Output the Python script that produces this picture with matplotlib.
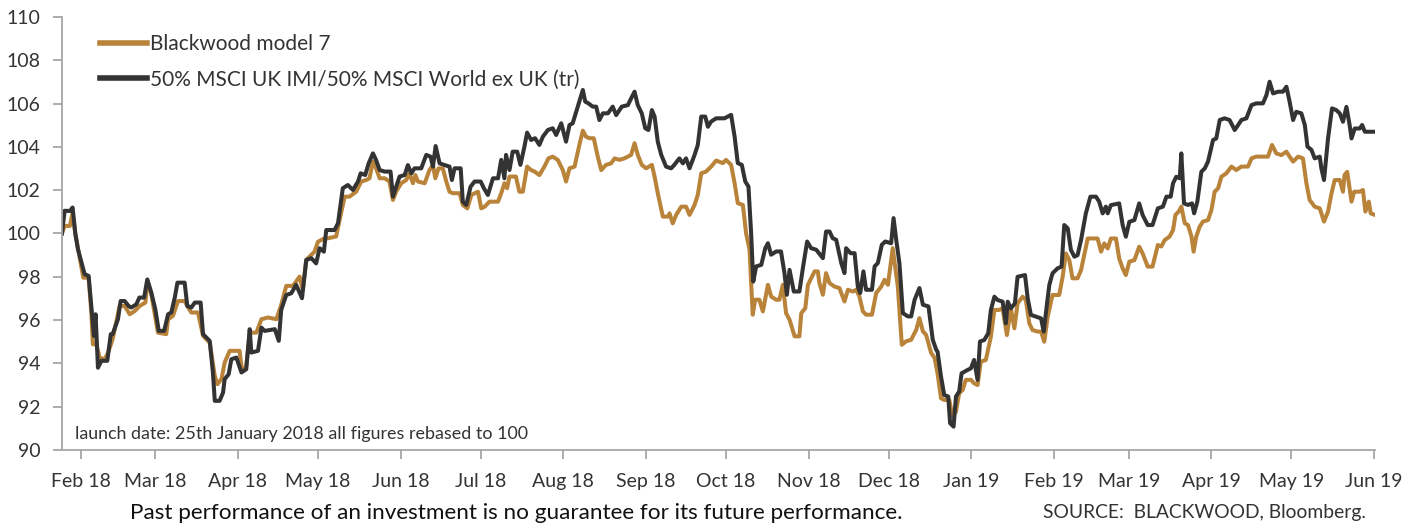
import datetime as dt
import matplotlib
matplotlib.use("Agg")
import matplotlib.pyplot as plt
import matplotlib.dates as mdates

# launch date, all figures rebased to 100 on this day
launch = dt.datetime(2018, 1, 25)

# 50% MSCI UK IMI / 50% MSCI World ex UK (tr) - days since launch and rebased value
bench_days = [0, 1, 3, 4, 5, 6, 8.5, 10, 11, 12, 12.6, 13.5, 14.8, 17, 18.3, 19, 21, 22, 23.5, 25,
              26, 27.9, 29, 30.8, 32, 33.5, 35, 36.3, 38.3, 39.8, 41, 42.3, 43.3, 46, 47, 48.5, 49.8, 52, 52.9, 55.4,
              56.6, 57.3, 59.1, 60.4, 61, 62.5, 63.5, 65.4, 67.3, 69.1, 70.4, 71, 73.5, 74.8, 76, 79.8, 81.3,
              82.2, 84.1, 86, 87.8, 90, 91.6, 93.5, 95.3, 96.6, 98.2, 99.1, 102.2, 103.5, 105.3, 107.2, 109.1,
              111, 112, 113.7, 115, 116.6, 117.8, 119.1, 121, 123.2, 124.1, 125.3, 126.6, 128.5, 129.7, 131,
              132.2, 134.7, 136.6, 138.2, 139.1, 140.1, 141.6, 143.5, 145.3, 146.2, 147.2, 149.5, 150.3, 151.6,
              153.2, 154.7, 157, 158.2, 159.7, 161.6, 163.5,
              164.7, 165.9, 166.5, 167.8, 169, 170.7, 171.9, 173.4, 174.4, 175.9, 177.4, 179, 180.3, 182.2, 184,
              185.3, 187.2, 189, 190.3, 191.5, 193.4, 195.3, 196.2, 197.4, 199, 200.3, 201.5, 202.8, 204.7, 206.5,
              207.8, 209.9, 212.2, 213.4, 214.7, 215.9, 217.4, 218.7, 219.9, 221.2, 222.2, 223.4, 224.7, 226.5,
              228.4, 229.6, 231.5, 232.8, 234, 235.3, 237.2, 238.4, 239.7, 241.2, 242.2, 243.4, 245.3,
              248.4, 250.9, 252.2, 253.4, 254.9, 256.2, 257.4, 258.4, 259.2, 260.3, 262.2, 263.7, 264.7, 265.9,
              267.8, 269.6, 270.9, 271.8, 272.8, 274.4, 276.5, 277.8, 279.4, 280.9, 282.8, 285.3, 286.5, 287.8,
              289, 290.3, 292.2, 293.4, 294, 295.7, 297.2, 298.4, 299.3, 300.5, 301.5, 303.7, 304.7, 305.9, 307.4,
              308.7, 310.9, 311.8, 312.8, 314, 315.3, 317.2, 318.4, 319.7, 321.5, 322.8, 324.9, 326.5, 327.8,
              328.3, 329.6, 330.8, 332.3, 333, 334.3, 335.2, 336.4, 337.3, 339.6, 340.8, 342, 343.3, 344.2, 345.8,
              347.3, 348.3, 349.6, 350.8, 352.7, 353.9, 354.6, 355.8, 357.3, 358.3, 361.1, 362.1, 363.3, 365.2,
              367.1, 368.1, 368.9, 370.2, 371.4, 373.3, 374.8, 375.8, 377.1, 378.3, 379.6, 380.8, 382.1, 383.9,
              385.6, 387.7, 388.9, 390.2, 391.4, 392.1, 393.3, 396.4, 397.7, 398.9, 400.2, 402.1, 403.9, 405.2,
              407.1, 408.9,
              410.9, 412.8, 414.1, 415.7, 416.6, 417.8, 419.1, 419.7, 420.7, 422.2, 423.7, 424.5, 425.7, 427.2,
              428.5, 429.7, 431.6, 432.8, 434.1, 435.9, 437.8, 439.7, 441, 442.2, 444.1, 446, 447.8, 450.3, 451.6,
              452.8, 454.1, 456, 457.8, 459.1, 460.3, 461.6, 462.8, 464.7, 466, 467, 468.5, 469.7, 471.6, 472.2,
              473.2, 474.7, 476.2, 477.8, 479.1, 480.3, 481.6, 482.8, 483.5, 484.7, 486.6, 487.5, 488.5, 492.2]
bench_vals = [100.0, 101.05, 101.04, 101.2, 100.0, 99.27, 98.12, 98.04, 96.65, 95.27, 96.27, 93.8, 94.12, 94.12,
              95.35, 95.35, 96.04, 96.88, 96.88, 96.65, 96.58, 96.73, 97.04, 97.04, 97.88, 97.27, 96.5, 95.5, 95.5,
              96.27, 96.35, 97.04, 97.73, 97.73, 96.65, 96.58, 96.81, 96.81, 95.35, 95.04, 93.58, 92.27, 92.27,
              92.65, 93.27, 93.5, 94.19, 94.27, 93.58, 93.73, 95.58, 94.5, 94.58, 95.65, 95.5, 95.58, 95.04,
              96.47, 97.16, 97.24, 97.63, 97.01, 98.78, 98.86, 98.62, 99.32, 99.16, 100.16, 100.16, 100.47, 102.09,
              102.24, 102.01, 102.4, 102.78, 102.7, 103.24, 103.7, 103.39, 102.93, 102.86, 102.86, 101.7, 102.16,
              102.63, 102.7, 103.16, 102.78, 103.01, 103.01, 103.63, 103.55, 103.09, 104.04, 103.24, 103.16, 103.09,
              102.47, 103.01, 103.01, 101.47, 101.32, 102.16, 102.4, 102.4, 102.09, 101.78, 102.55, 102.55,
              103.4, 102.55, 103.63, 102.93, 103.78, 103.78, 103.17, 104.01, 104.66, 104.32, 104.4, 104.09, 104.47,
              104.78, 104.86, 104.55, 105.09, 104.24, 105.01, 105.09, 105.86, 106.63, 106.09, 106.01, 105.86,
              105.86, 105.24, 105.55, 105.55, 105.86, 105.47, 105.86, 105.93, 106.24, 106.55, 105.93, 105.55,
              104.86, 104.78, 105.7, 105.4, 104.24, 103.63, 103.09, 103.01, 103.17, 103.47, 103.24, 103.47, 103.01,
              103.63, 104.09, 105.4, 105.4, 104.93, 105.17, 105.32,
              105.32, 105.48, 104.48, 103.25, 103.17, 102.4, 102.17, 100.02, 97.78, 98.48, 98.55, 99.32, 99.55,
              99.02, 99.17, 99.17, 98.17, 97.17, 98.32, 97.32, 97.32, 98.4, 99.63, 99.32, 99.25, 98.86, 100.09,
              100.09, 99.78, 99.71, 98.63, 98.17, 99.32, 99.09, 99.09, 97.55, 97.25, 98.25, 97.4, 97.4, 98.48,
              98.63, 99.48, 99.63, 99.55, 100.71, 99.71, 98.63, 96.32, 96.17, 96.17, 96.94, 97.48, 96.71, 96.63,
              95.09, 94.63,
              94.54, 93.39, 92.54, 92.47, 91.24, 91.08, 92.47, 92.7, 93.54, 93.7, 93.77, 94.16, 93.24, 95.01, 95.08,
              95.39, 96.47, 97.08, 96.93, 96.85, 95.85, 96.85, 96.54, 96.77, 98.0, 98.08, 97.0, 96.24, 96.16, 96.08,
              95.47, 96.31, 97.62, 98.16, 98.39, 98.47, 100.39, 100.24, 99.24, 98.93, 99.0, 99.7, 100.93, 101.7,
              101.7, 101.47, 100.93, 101.24, 100.93, 101.31, 101.39, 100.39, 99.85, 100.54, 100.62, 101.39, 100.85,
              100.39, 100.39,
              101.16, 101.24, 101.7, 101.7, 102.32, 102.62, 102.55, 103.7, 101.39, 101.32, 101.39, 100.93, 101.47,
              102.85, 103.01, 103.32, 104.32, 104.39, 105.24, 105.32, 105.24, 104.78, 105.01, 105.24, 105.32,
              105.93, 106.01, 106.01, 106.39, 107.01, 106.47, 106.55, 106.55, 106.78, 106.09, 105.24, 105.62,
              105.55, 105.01, 104.01, 103.86, 103.47, 103.55, 103.01, 102.47, 104.39, 105.78, 105.7, 105.55,
              105.16, 105.85, 105.01, 104.39, 104.85, 104.85, 105.01, 104.7, 104.7]

# Blackwood model 7 - days since launch and rebased value
model_days = [0, 1, 3, 4, 5, 8, 10, 11, 11.6, 12.9, 14.1, 16, 17.3, 19, 21.6, 23.5, 25.4, 27.3, 29.1, 31.3, 32,
              33.5, 36, 39.1, 39.8, 41.6, 43.5, 46, 47, 48.5, 51, 52.9, 55.4, 57.3, 58.3, 59.8, 61, 62.9, 66.6,
              67.5, 69.1, 70.4, 72.9, 74.8, 77.3, 80.4,
              82.2, 84.1, 86.6, 89.1, 90.3, 91.6, 94.7, 96, 98.5, 99.7, 102.8, 104.1, 106, 107.8, 110.3, 112.2,
              114.1, 115.3, 116.6, 117.8, 119.1, 121, 122.8, 124.1, 125.3, 127.2, 129.1, 130.3, 131.6, 132.5,
              133.5, 136, 137.8, 139.1, 140, 141.2, 142.8, 144.1, 145.3, 146.6, 149.1, 150.3, 152, 153.5, 156,
              157.2, 158.5, 160.3, 163.5,
              164.7, 165.9, 166.9, 167.8, 170.2, 171.5, 172.8, 174.4, 175.9, 177.2, 179, 180.9, 182.4, 184, 185.9,
              187.8, 189, 190.3, 192.2, 194, 195.3, 196.5, 197.8, 199.4, 200.9, 202.2, 204, 205.9, 207.2, 209,
              210.9, 213.4, 214.7, 215.9, 217.4, 219, 221.2, 222.2, 223.4, 225.3, 227.2, 227.8, 229, 230.3, 232.2,
              234, 235.3, 237.2, 238.4, 239.7, 241.5, 243.4, 245.3,
              247.8, 249, 250.9, 252.2, 253.4, 255.3, 256.5, 257.8, 259, 259.9, 261.5, 262.8, 264.7, 265.9, 267.8,
              269, 270.3, 271.5, 272.8, 274.7, 276.5, 277.2, 278.7, 279.7, 282.2, 283.4, 284, 285.3, 286.5, 287.8,
              289.6, 291.5, 293.4, 294.7, 296.5, 297.8, 299, 300.3, 301.5, 303.7, 305.3, 307.2, 308.4, 309.7,
              311.5, 313.4, 314.9, 316.5, 318.4, 320.3, 321.5, 322.8, 324, 325.9, 327.2,
              328.3, 329.6, 330.8, 332.7, 333.9, 335.2, 336.4, 337.7, 338.9, 340.8, 342, 343.3, 344.5, 346.4,
              348.3, 349.6, 351.4, 352.7, 354.3, 355.8, 357.1, 358.3, 360.2, 361.4, 362.7, 363.9, 365.8, 367.1,
              368.3, 369.6, 371.4, 373.9, 375.2, 376.4, 377.7, 378.9, 380.8, 382.1, 383.3, 384.6, 386.4, 388.3,
              389.6, 390.8, 392.1, 393.3, 395.2, 396.4, 397.7, 398.9, 400.2, 402.1, 403.9, 405.2, 407.1, 408.9,
              410.9, 412.2, 413.5, 415.3, 416.6, 417.5, 418.7, 419.7, 421, 422.2, 423.5, 424.3, 425.3, 426.6,
              427.8, 429.7, 431, 432.2, 433.5, 434.7, 436.6, 438.5, 440.3, 442.2, 444.7, 446, 447.8, 450, 452.2,
              453.7, 455.3, 457.2, 459.1, 460.3, 461.6, 463.5, 465.3, 466.6, 467.8, 469.7, 471.6, 473.2, 474.7,
              476, 477.2, 479.1, 480.3, 480.9, 481.9, 483.5, 484.5, 486.6, 487.8, 488.7, 490, 490.7, 492.2]
model_vals = [100.0, 100.35, 100.35, 100.96, 100.0, 97.96, 97.96, 96.35, 94.88, 94.88, 94.27, 94.19, 94.5, 95.12,
              96.65, 96.65, 96.27, 96.42, 96.65, 96.81, 97.81, 97.19, 95.42, 95.35, 96.04, 96.19, 96.88, 96.88,
              96.65, 96.35, 96.35, 95.27, 94.96, 93.42, 93.04, 93.27, 94.04, 94.58, 94.58, 93.65, 93.88, 95.42,
              95.42, 96.04, 96.12, 96.04,
              96.7, 97.58, 97.58, 98.01, 97.39, 98.78, 99.16, 99.62, 99.78, 99.78, 99.86, 100.63, 101.7, 101.7,
              101.93, 102.4, 102.47, 102.55, 103.32, 103.01, 102.55, 102.55, 102.4, 101.55, 101.93, 102.32, 102.47,
              102.78, 102.32, 102.7, 102.4, 102.32, 102.93, 103.16, 102.55, 103.01, 103.01, 102.4, 101.93, 101.86,
              101.86, 101.32, 101.16, 101.78, 101.93, 101.16, 101.24, 101.47, 101.47,
              101.86, 102.32, 102.09, 102.63, 102.63, 101.93, 101.93, 103.09, 102.93, 102.86, 102.7, 103.09,
              103.47, 103.55, 103.4, 102.93, 102.4, 103.01, 103.09, 104.09, 104.75, 104.47, 104.4, 104.4, 103.55,
              102.93, 103.17, 103.24, 103.47, 103.4, 103.47, 103.63, 104.17, 103.63, 103.17, 103.01, 103.17,
              102.63, 101.86, 100.78, 100.78, 100.93, 100.47, 100.86, 101.24, 101.24, 100.86, 101.32, 101.78,
              102.78, 102.86, 103.09, 103.37,
              103.25, 103.4, 103.17, 102.32, 101.4, 101.32, 100.02, 99.25, 96.25, 96.94, 96.94, 96.4, 97.63, 97.09,
              96.94, 96.94, 97.63, 96.32, 96.02, 95.25, 95.25, 96.32, 96.55, 97.63, 98.25, 98.25, 97.71, 97.17,
              98.17, 97.71, 97.55, 97.48, 96.86, 97.4, 97.32, 97.4, 97.09, 96.4, 96.25, 96.25, 97.25, 97.55, 97.86,
              97.63, 99.32, 97.55, 94.86, 95.02, 95.09, 95.55, 96.09, 95.48, 95.32, 94.48, 94.25,
              93.54, 92.39, 92.31, 92.31, 91.54, 91.77, 92.62, 92.77, 93.24, 93.24, 93.08, 93.0, 94.08, 94.16,
              95.24, 96.47, 96.47, 96.54, 95.31, 96.54, 95.62, 96.77, 97.08, 96.93, 95.85, 95.54, 95.47, 95.47,
              95.0, 96.16, 97.16, 97.16, 98.0, 99.08, 98.77, 97.93, 97.93, 98.31, 99.0, 99.77, 99.77, 99.77, 99.16,
              99.54, 99.31, 99.77, 99.77, 98.85, 98.39, 98.08, 98.7, 98.77, 99.39, 99.08, 98.47, 98.47,
              99.47, 99.4, 99.7, 99.86, 100.16, 100.86, 101.01, 101.24, 100.47, 100.39, 99.86, 99.16, 99.86,
              100.32, 100.55, 100.62, 101.09, 101.93, 102.09, 102.62, 102.78, 103.09, 102.93, 103.09, 103.09,
              103.47, 103.55, 103.55, 103.55, 104.09, 103.7, 103.62, 103.78, 103.55, 103.32, 103.55, 103.47,
              102.32, 101.55, 101.24, 101.16, 100.55, 101.01, 101.85, 102.47, 102.47, 101.93, 102.7, 102.85,
              101.47, 101.93, 101.93, 102.01, 101.01, 101.47, 100.93, 100.86]

series_names = ["Blackwood model 7", "50% MSCI UK IMI/50% MSCI World ex UK (tr)"]
gold = "#b9833a"
dark = "#333333"
axis_grey = "#a6a6a6"

plt.rcParams["font.family"] = ["Lato", "DejaVu Sans"]

fig = plt.figure(figsize=(14.21, 5.26), dpi=100)
ax = fig.add_axes([0.0436, 0.1445, 0.924, 0.8232])

# convert "days since launch" to real dates for the date axis
model_x = [launch + dt.timedelta(days=d) for d in model_days]
bench_x = [launch + dt.timedelta(days=d) for d in bench_days]

ax.plot(model_x, model_vals, color=gold, lw=2.9, label=series_names[0], solid_joinstyle="round")
ax.plot(bench_x, bench_vals, color=dark, lw=2.9, label=series_names[1], solid_joinstyle="round")

ax.set_ylim(90, 110)
ax.set_yticks(range(90, 111, 2))
ax.set_xlim(launch, launch + dt.timedelta(days=492.3))
ax.xaxis.set_major_locator(mdates.MonthLocator(bymonthday=1))
ax.xaxis.set_major_formatter(mdates.DateFormatter("%b %y"))

# axis styling: only left and bottom spines, thin grey
for side in ["top", "right"]:
    ax.spines[side].set_visible(False)
for side in ["left", "bottom"]:
    ax.spines[side].set_color(axis_grey)
    ax.spines[side].set_linewidth(1.3)
ax.tick_params(axis="both", colors=axis_grey, width=1.3, length=6.5, labelcolor="#333333", labelsize=14)
ax.tick_params(axis="y", pad=9)
ax.tick_params(axis="x", pad=10)

leg = ax.legend(loc="upper left", bbox_to_anchor=(0.023, 0.979), frameon=False, fontsize=15,
                handlelength=2.25, handletextpad=0.15, labelspacing=0.72, borderaxespad=0)
for line in leg.get_lines():
    line.set_linewidth(4)
for t in leg.get_texts():
    t.set_color("#333333")

ax.text(0.01, 0.018, "launch date: 25th January 2018 all figures rebased to 100", transform=ax.transAxes,
        fontsize=12.9, color="#333333", ha="left", va="bottom")

fig.text(0.0915, 0.025, "Past performance of an investment is no guarantee for its future performance.",
         fontsize=16.2, color="#111111", ha="left", va="center")
fig.text(0.961, 0.025, "SOURCE:  BLACKWOOD, Bloomberg.", fontsize=13.9, color="#333333", ha="right", va="center")

fig.savefig("out.png", dpi=100)
